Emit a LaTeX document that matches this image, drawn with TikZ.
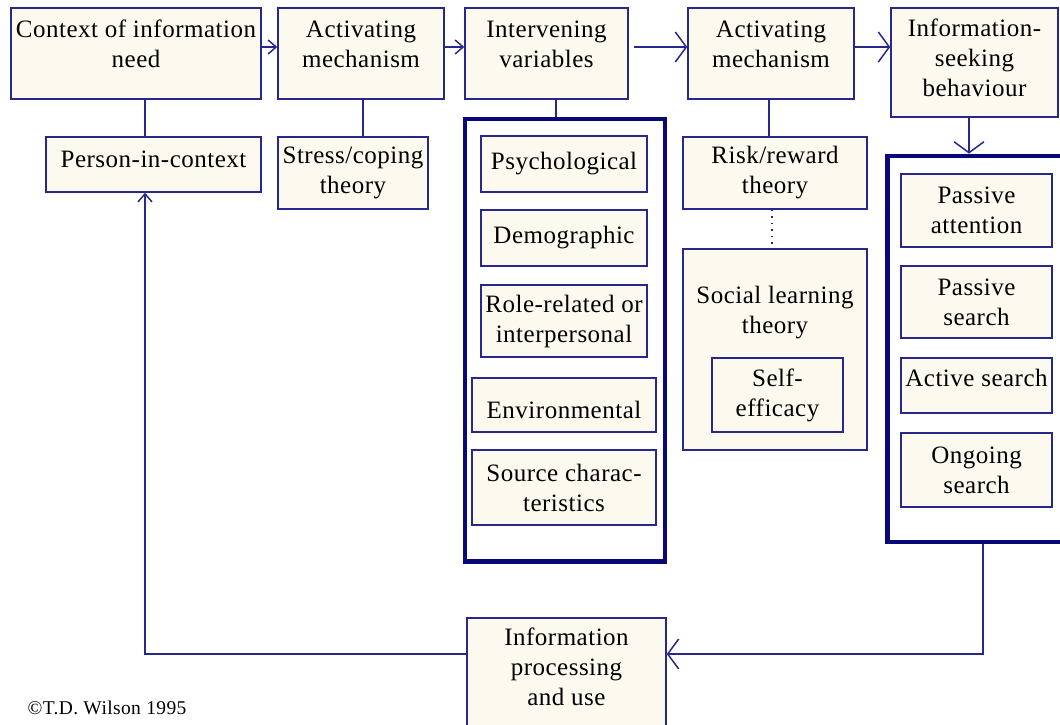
\documentclass[tikz,border=0pt]{standalone}
\usepackage{fontspec}
\setmainfont{Liberation Serif}[LetterSpace=2]
\usetikzlibrary{arrows.meta}
\definecolor{edge}{RGB}{40,40,140}
\definecolor{heavy}{RGB}{8,8,120}
\definecolor{paper}{RGB}{252,249,238}
\begin{document}
\begin{tikzpicture}[x=1pt,y=-1pt,
  box/.style={draw=edge,fill=paper,line width=1.5pt,inner sep=0pt,align=center,
    font=\fontsize{25}{30}\selectfont},
  txt/.style={inner sep=0pt,align=center,font=\fontsize{25}{30}\selectfont},
  frame/.style={draw=heavy,fill=white,line width=4.7pt,inner sep=0pt},
  link/.style={draw=edge,line width=1.5pt},
  tipS/.style={-{Straight Barb[length=8pt,width=14pt]}},
  tipL/.style={-{Straight Barb[length=11pt,width=30pt]}},
]
\useasboundingbox (0,0) rectangle (1060,725);

% helper rows and columns for connectors
\coordinate (rowA) at (0,47);
\coordinate (rowB) at (0,654);
\coordinate (colL) at (145,0);
\coordinate (colR) at (983,0);

% heavy frames
\node[frame,minimum width=200pt,minimum height=442.5pt] (interv) at (565,340.25) {};
\node[frame,minimum width=192.5pt,minimum height=386pt] (seek) at (983.75,349) {};

% top row
\node[box,minimum width=250pt,minimum height=91pt] (b1) at (136,53.5) {};
\node[txt] (t1) at (136,43.5) {Context of information\\need};
\node[box,minimum width=166pt,minimum height=91pt] (b2) at (361,53.5) {};
\node[txt] (t2) at (361,44) {Activating\\mechanism};
\node[box,minimum width=163pt,minimum height=91pt] (b3) at (546.5,53.5) {};
\node[txt] (t3) at (546.5,44) {Intervening\\variables};
\node[box,minimum width=166pt,minimum height=91pt] (b4) at (771,53.5) {};
\node[txt] (t4) at (771,44) {Activating\\mechanism};
\node[box,minimum width=167pt,minimum height=109pt] (b5) at (974.5,62.5) {};
\node[txt] (t5) at (974.5,58) {Information-\\seeking\\behaviour};

% second row
\node[box,minimum width=215pt,minimum height=55pt] (person) at (153.5,164.5) {};
\node[txt] (tp) at (153.5,159) {Person-in-context};
\node[box,minimum width=150pt,minimum height=72pt] (stress) at (353,173) {Stress/coping\\theory};
\node[box,minimum width=184pt,minimum height=72pt] (risk) at (775,173) {Risk/reward\\theory};

% intervening variables
\node[box,minimum width=166pt,minimum height=56pt] (psych) at (564,164) {Psychological};
\node[box,minimum width=166pt,minimum height=56pt] (demo) at (564,238) {Demographic};
\node[box,minimum width=166pt,minimum height=72pt] (role) at (564,321) {Role-related or\\interpersonal};
\node[box,minimum width=184pt,minimum height=54pt] (env) at (564,405) {};
\node[txt] (te) at (564,410) {Environmental};
\node[box,minimum width=184pt,minimum height=75pt] (source) at (564,487.5) {Source charac-\\teristics};

% social learning
\node[box,minimum width=184pt,minimum height=201pt] (social) at (775,349.5) {};
\node[txt] (ts) at (775,313) {Social learning\\theory};
\node[box,minimum width=131pt,minimum height=74pt] (self) at (777.5,395) {Self-\\efficacy};

% search modes
\node[box,minimum width=151pt,minimum height=73pt] (pattn) at (976.5,210.5) {Passive\\attention};
\node[box,minimum width=151pt,minimum height=72pt] (psearch) at (976.5,302) {Passive\\search};
\node[box,minimum width=151pt,minimum height=55pt] (active) at (976.5,385.5) {};
\node[txt] (ta) at (976.5,378) {Active search};
\node[box,minimum width=151pt,minimum height=74pt] (ongoing) at (976.5,470) {Ongoing\\search};

% processing
\node[box,minimum width=199pt,minimum height=142pt] (info) at (566.5,689) {};
\node[txt] (ti) at (566.5,667) {Information\\processing\\and use};

% copyright line
\node[inner sep=0pt,font=\fontsize{19.5}{23}\selectfont] (copy) at (107,708) {©T.D. Wilson 1995};

% main chain
\draw[link,tipS] (b1.east |- rowA) -- (b2.west |- rowA);
\draw[link,tipS] (b2.east |- rowA) -- (b3.west |- rowA);
\draw[link,tipL] ([xshift=5pt]b3.east |- rowA) -- (b4.west |- rowA);
\draw[link,tipL] (b4.east |- rowA) -- (b5.west |- rowA);

% attachments
\draw[link] (b1.south -| colL) -- (person.north -| colL);
\draw[link] ([xshift=2pt]b2.south) -- ([xshift=2pt]b2.south |- stress.north);
\draw[link] ([xshift=9.5pt]b3.south) -- ([xshift=9.5pt]b3.south |- interv.north);
\draw[link] ([xshift=-2pt]b4.south) -- ([xshift=-2pt]b4.south |- risk.north);
\draw[link,dash pattern=on 1.5pt off 5pt] ([xshift=-3pt]risk.south) -- ([xshift=-3pt]social.north);
\draw[link,tipL] ([xshift=-5.5pt]b5.south) -- ([xshift=-5.5pt]b5.south |- seek.north);

% feedback loop
\draw[link,tipL] (seek.south -| colR) |- (info.east |- rowB);
\draw[link,tipS] (info.west |- rowB) -| (person.south -| colL);
\end{tikzpicture}
\end{document}
